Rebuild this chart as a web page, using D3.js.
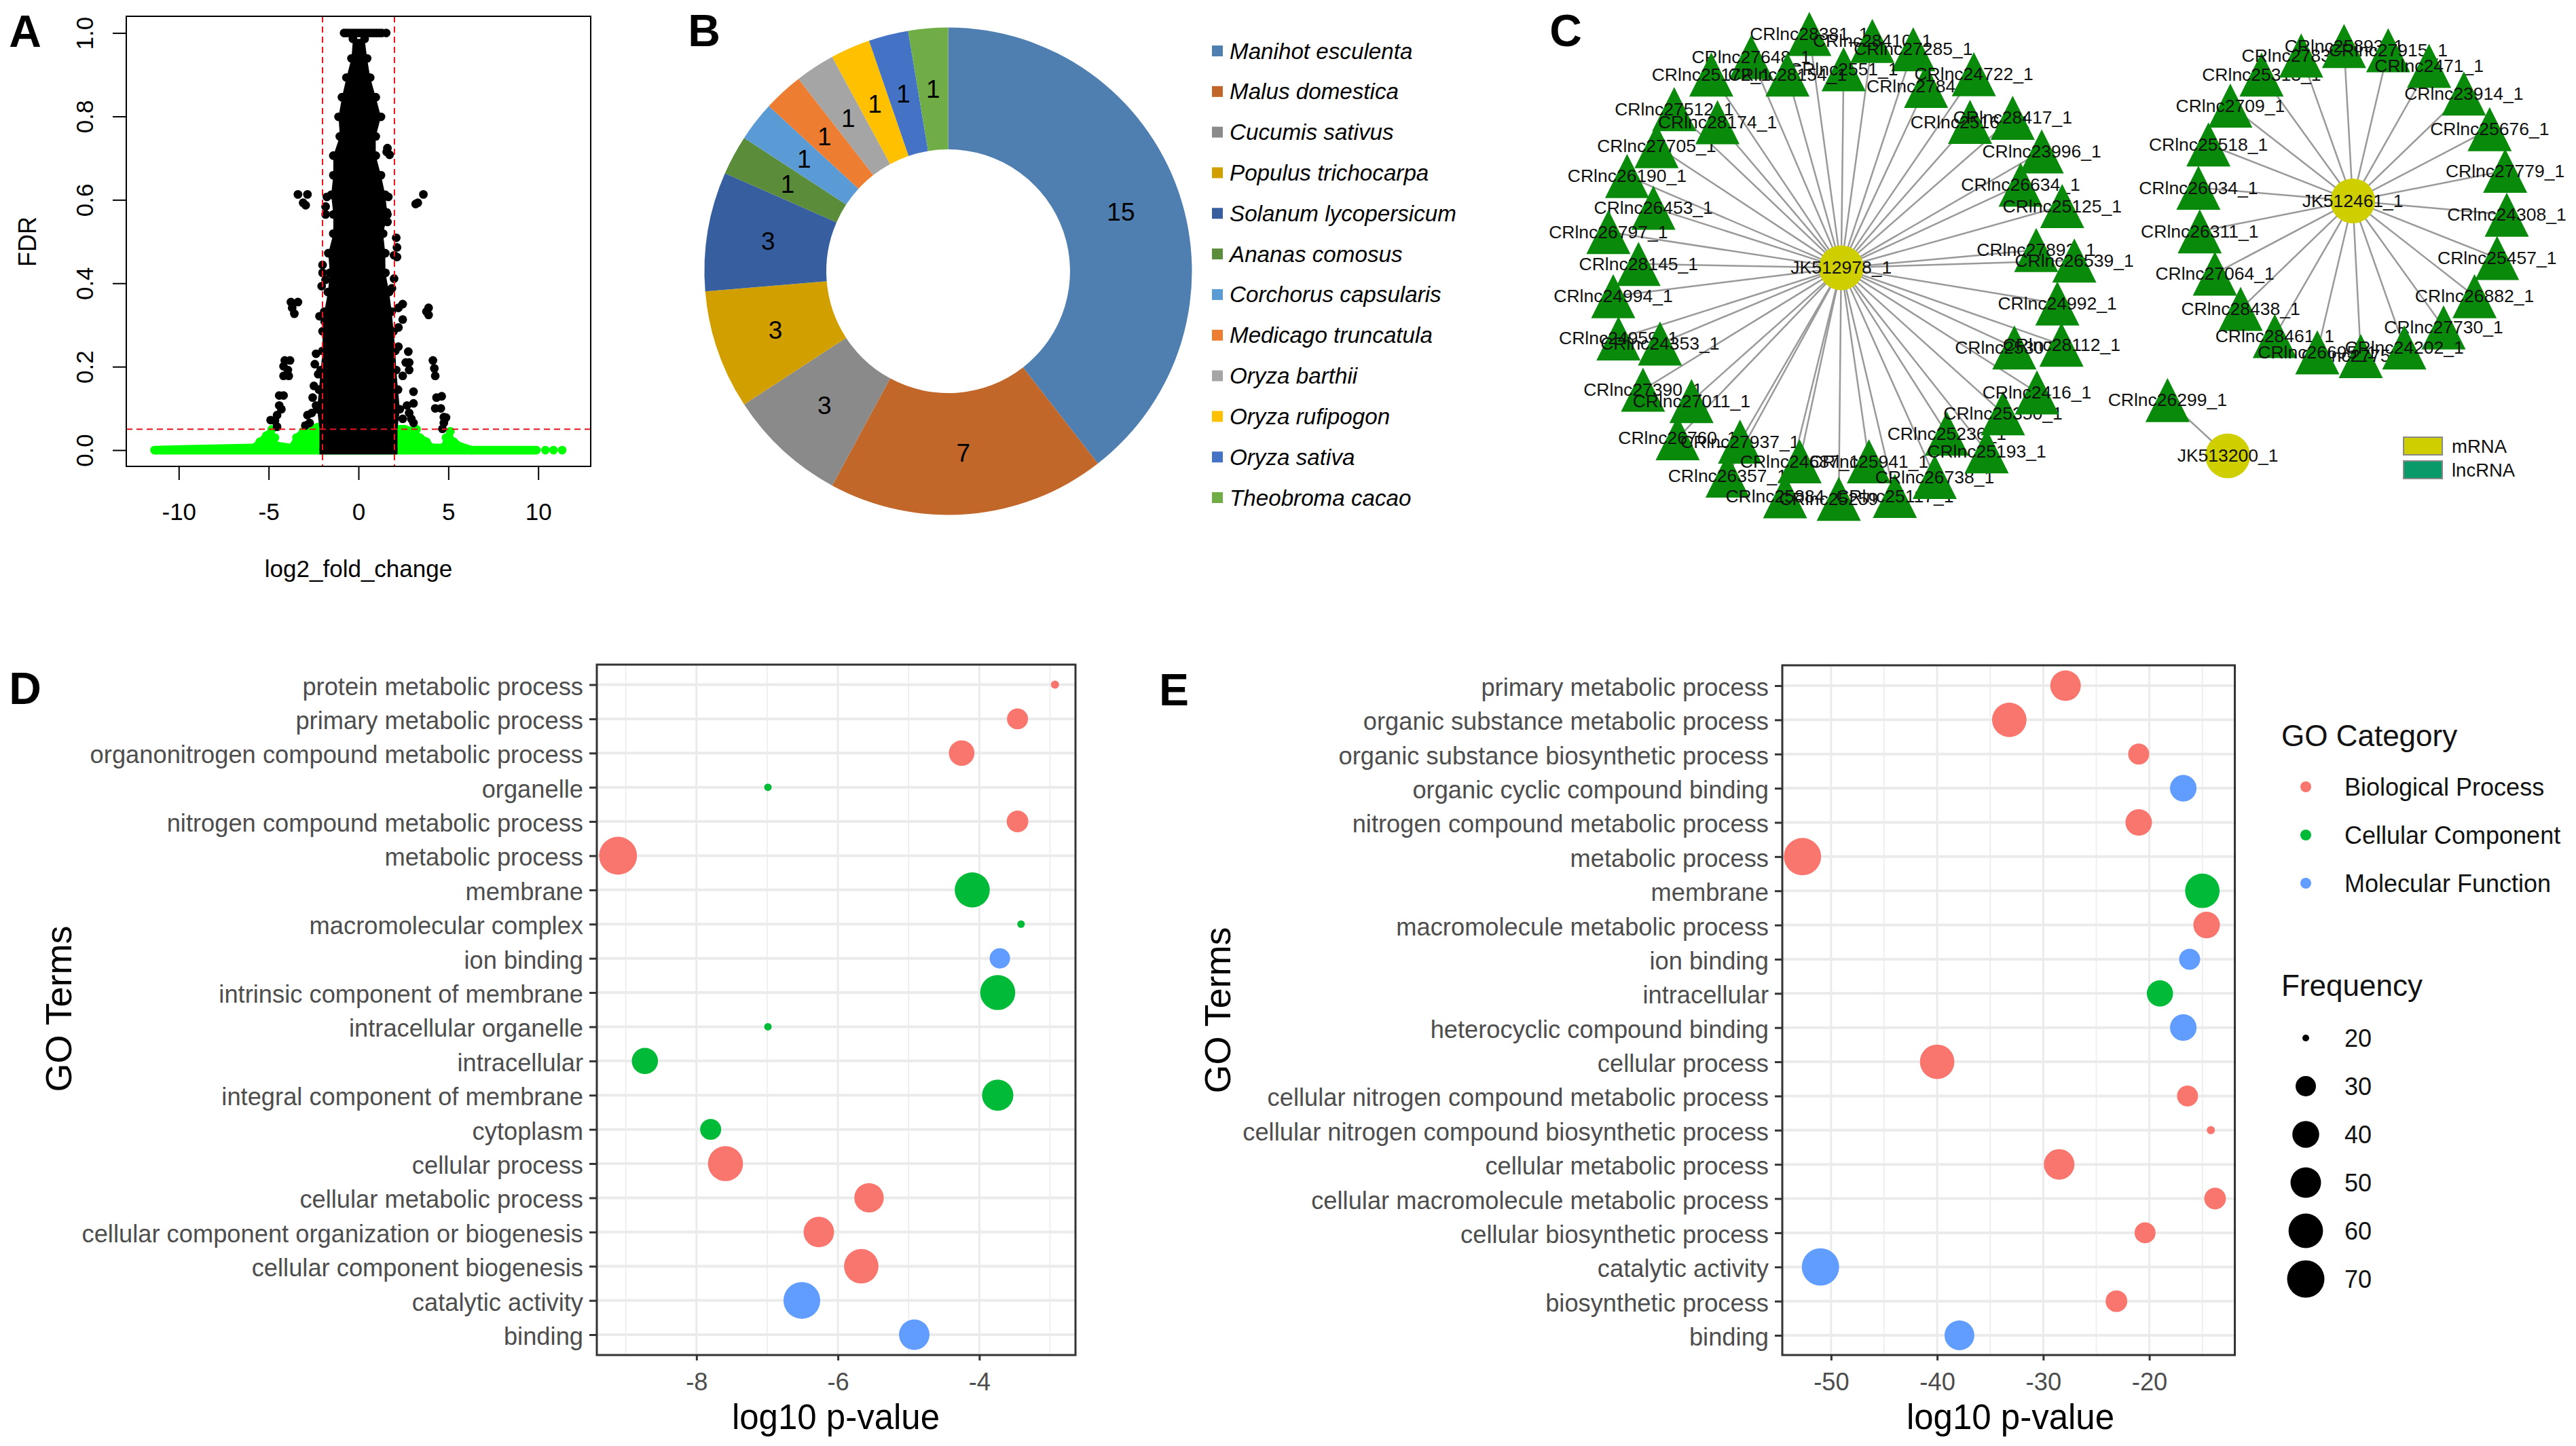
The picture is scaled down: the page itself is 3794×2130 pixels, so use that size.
<!DOCTYPE html>
<html><head><meta charset="utf-8">
<script src="https://cdnjs.cloudflare.com/ajax/libs/d3/7.8.5/d3.min.js"></script>
<style>html,body{margin:0;padding:0;background:#fff}svg{display:block}text{font-family:"Liberation Sans",Arial,sans-serif}</style>
</head><body><svg id="c" width="3794" height="2130"></svg>
<script>
// ---------- Panel A data
const aOutX=[-3.37,-2.84,-3.08,-2.94,1.61,1.57,1.73,3.30,3.61,3.18,-3.76,-3.37,-3.69,-3.57,3.90,3.78,3.90,2.10,2.14,1.98,2.14,-1.76,-1.83,-1.83,1.66,1.57,1.61,-2.0,-2.0,-1.83,-2.05,1.98,1.86,2.46,2.22,2.46,2.22,-2.17,-1.88,2.22,2.77,-4.10,-3.81,-4.17,-3.93,-4.17,-3.88,4.14,4.22,4.27,-2.36,-2.43,-2.24,2.63,2.82,2.46,2.82,-2.48,-2.55,-2.36,-2.60,3.06,3.06,2.70,2.82,-4.41,-4.17,-4.41,-4.29,-4.53,-4.65,-4.89,-4.53,4.34,4.63,4.27,4.58,4.75,4.87,4.75,4.67,-2.84,-2.72,-2.96,2.94,3.06,2.46];
const aOutY=[.613,.613,.593,.587,.724,.715,.708,.593,.613,.590,.355,.355,.341,.327,.341,.332,.324,.509,.486,.467,.463,.607,.584,.565,.607,.570,.547,.444,.425,.408,.393,.411,.388,.350,.341,.313,.294,.321,.308,.248,.236,.215,.215,.201,.192,.178,.178,.215,.196,.178,.231,.206,.182,.210,.210,.178,.192,.154,.126,.107,.089,.140,.112,.107,.089,.131,.131,.107,.098,.084,.070,.072,.056,.126,.129,.100,.100,.079,.078,.065,.051,.084,.065,.059,.075,.065,.075];
const aTopX=[-.8,-.65,-.5,-.35,-.2,-.05,.1,.25,.4,.55,.7,.85,1.0,1.15,1.3,1.54];
const aEnvY=[.986,.939,.893,.846,.799,.752,.706,.659,.612,.565,.519,.472,.425,.379,.332,.285,.238,.192,.145,.098,.051,0];
const aEnvL=[-.31,-.39,-.67,-.92,-1.11,-1.04,-1.40,-1.40,-1.52,-1.40,-1.40,-1.68,-1.6,-1.7,-1.9,-2.0,-2.0,-2.1,-2.2,-2.3,-2.17,-2.17];
const aEnvR=[.34,.48,.65,.96,1.25,.96,.96,1.25,1.49,1.61,1.37,1.49,1.5,1.7,1.85,1.95,2.05,2.1,2.2,2.3,2.17,2.17];
const aGreenX=[-11.35,-5.86,-5.49,-5.13,-4.82,-4.65,-4.53,-3.81,-3.45,-3.08,-2.72,-2.24,2.22,2.58,2.94,3.23,3.42,3.78,4.14,4.63,4.87,5.11,5.30,5.71,6.31,9.8];
const aGreenY=[0,.005,.02,.035,.05,.03,.01,.005,.03,.045,.05,.055,.05,.05,.045,.05,.03,.02,.005,.005,.03,.045,.02,.008,0,0];
const aGreenEnd=[9.9,10.4,10.85,11.33];
const aXTicks=[-10,-5,0,5,10];
const aYTicks=[0,.2,.4,.6,.8,1];
const aThreshX=[-2,2];
const aThreshY=.05;
// ---------- Panel B data
const species=["Manihot esculenta","Malus domestica","Cucumis sativus","Populus trichocarpa","Solanum lycopersicum","Ananas comosus","Corchorus capsularis","Medicago truncatula","Oryza barthii","Oryza rufipogon","Oryza sativa","Theobroma cacao"];
const speciesCounts=[15,7,3,3,3,1,1,1,1,1,1,1];
const speciesColors=["#4E7FB0","#C1672A","#8A8A8A","#D29F00","#375E9F","#5B8C3A","#5B9BD5","#ED7D31","#A5A5A5","#FFC000","#4472C4","#70AD47"];
// ---------- Panel C data (read in crop units)
const hub1={name:"JK512978_1",x:905,y:773};
const hub1Names=["CRlnc28381_1","CRlnc28410_1","CRlnc27285_1","CRlnc27844_1","CRlnc24722_1","CRlnc27648_1","CRlnc2551_1","CRlnc25172_1","CRlnc28154_1","CRlnc27512_1","CRlnc27705_1","CRlnc28174_1","CRlnc26190_1","CRlnc26453_1","CRlnc26797_1","CRlnc28145_1","CRlnc24994_1","CRlnc24959_1","CRlnc24353_1","CRlnc27390_1","CRlnc27011_1","CRlnc26760_1","CRlnc27937_1","CRlnc26357_1","CRlnc24687_1","CRlnc25941_1","CRlnc25884_1","CRlnc25259_1","CRlnc25117_1","CRlnc26738_1","CRlnc25236_1","CRlnc25193_1","CRlnc25350_1","CRlnc2416_1","CRlnc25307_1","CRlnc28112_1","CRlnc24992_1","CRlnc27892_1","CRlnc26539_1","CRlnc26634_1","CRlnc25125_1","CRlnc23996_1","CRlnc25164_1","CRlnc28417_1"];
const hub1X=[813,995,1113,1150,1288,645,912,530,750,423,372,548,287,363,233,320,247,262,382,333,473,433,613,577,785,985,743,898,1060,1175,1210,1325,1372,1470,1405,1541,1529,1468,1578,1423,1543,1484,1277,1400];
const hub1Y=[98,118,142,248,214,165,200,215,215,315,422,353,508,600,670,762,855,977,992,1125,1158,1265,1275,1373,1332,1332,1433,1440,1432,1377,1252,1303,1193,1133,1003,995,876,722,752,533,595,437,352,340];
const hub2={name:"JK512461_1",x:875,y:580};
const hub2Names=["CRlnc25313_1","CRlnc27832_1","CRlnc25893_1","CRlnc27915_1","CRlnc2471_1","CRlnc23914_1","CRlnc2709_1","CRlnc25676_1","CRlnc25518_1","CRlnc27779_1","CRlnc26034_1","CRlnc24308_1","CRlnc26311_1","CRlnc25457_1","CRlnc27064_1","CRlnc26882_1","CRlnc28438_1","CRlnc27730_1","CRlnc27751_1","CRlnc28461_1","CRlnc26695_1","CRlnc24202_1"];
const hub2X=[592,715,848,985,1112,1220,495,1300,427,1348,396,1353,400,1323,447,1253,527,1157,900,633,765,1035];
const hub2Y=[215,160,133,145,190,270,305,373,417,493,542,620,668,745,790,855,892,945,1028,970,1017,1003];
const hub3={name:"JK513200_1",x:487,y:1316};
const hub3Names=["CRlnc26299_1"];
const hub3X=[300];
const hub3Y=[1155];
const netLegend=["mRNA","lncRNA"];
// ---------- Panels D / E data
const dTerms=["protein metabolic process","primary metabolic process","organonitrogen compound metabolic process","organelle","nitrogen compound metabolic process","metabolic process","membrane","macromolecular complex","ion binding","intrinsic component of membrane","intracellular organelle","intracellular","integral component of membrane","cytoplasm","cellular process","cellular metabolic process","cellular component organization or biogenesis","cellular component biogenesis","catalytic activity","binding"];
const dP=[-2.93,-3.46,-4.25,-6.99,-3.46,-9.11,-4.10,-3.41,-3.71,-3.74,-6.99,-8.73,-3.74,-7.80,-7.59,-5.56,-6.27,-5.67,-6.51,-4.92];
const dFreq=[21,31,38,20.5,32,72,62,20.5,30,62,20.5,39,52,31,62,47,50,60,68,50];
const dCat=["BP","BP","BP","CC","BP","BP","CC","CC","MF","CC","CC","CC","CC","CC","BP","BP","BP","BP","MF","MF"];
const eTerms=["primary metabolic process","organic substance metabolic process","organic substance biosynthetic process","organic cyclic compound binding","nitrogen compound metabolic process","metabolic process","membrane","macromolecule metabolic process","ion binding","intracellular","heterocyclic compound binding","cellular process","cellular nitrogen compound metabolic process","cellular nitrogen compound biosynthetic process","cellular metabolic process","cellular macromolecule metabolic process","cellular biosynthetic process","catalytic activity","biosynthetic process","binding"];
const eP=[-27.9,-33.2,-21.0,-16.8,-21.0,-52.7,-15.0,-14.6,-16.2,-19.0,-16.8,-40.0,-16.4,-14.2,-28.5,-13.8,-20.4,-51.0,-23.1,-37.9];
const eFreq=[50,60,31,39.5,39.5,70,60,39.5,31,39,39.5,60,31,21,50,32,31,70,32,48];
const eCat=["BP","BP","BP","MF","BP","BP","CC","BP","MF","CC","MF","BP","BP","BP","BP","BP","BP","MF","BP","MF"];
const catNames=["Biological Process","Cellular Component","Molecular Function"];
const catKeys=["BP","CC","MF"];
const catColors=["#F8766D","#00BA38","#619CFF"];
const freqLegend=[20,30,40,50,60,70];

const svg=d3.select("#c");
svg.append("rect").attr("width",3794).attr("height",2130).attr("fill","#fff");
function txt(g,x,y,s,size,o={}){
  const t=g.append("text").attr("x",x).attr("y",y).attr("font-size",size)
    .attr("dominant-baseline","central").attr("text-anchor",o.anchor||"middle")
    .attr("fill",o.fill||"#000").text(s);
  if(o.weight)t.attr("font-weight",o.weight);
  if(o.style)t.attr("font-style",o.style);
  if(o.rot!==undefined)t.attr("transform",`rotate(${o.rot},${x},${y})`);
  return t;
}
// panel letters
[["A",37,46],["B",1037,45],["C",2306,45],["D",37,1014],["E",1729,1016]].forEach(d=>txt(svg,d[1],d[2],d[0],66,{weight:"bold"}));

// ---------- A
(function(){
  const g=svg.append("g");
  const x=d3.scaleLinear().domain([-12.92,12.92]).range([186,870]);
  const y=d3.scaleLinear().domain([-.039,1.04]).range([687,24]);
  const R=6.4;
  // green
  const area=d3.area().x((d,i)=>x(aGreenX[i])).y0(y(0)+R).y1((d,i)=>y(aGreenY[i])-R).curve(d3.curveLinear);
  g.append("path").datum(aGreenX).attr("d",area).attr("fill","#00FF00");
  g.selectAll(".gp").data(aGreenX).join("circle").attr("cx",d=>x(d)).attr("cy",(d,i)=>y(aGreenY[i])).attr("r",R).attr("fill","#00FF00");
  g.selectAll(".ge").data(aGreenEnd).join("circle").attr("cx",d=>x(d)).attr("cy",y(0)).attr("r",R).attr("fill","#00FF00");
  // black mass
  const mass=d3.area().y((d,i)=>y(aEnvY[i])).x0((d,i)=>x(aEnvL[i])).x1((d,i)=>x(aEnvR[i]));
  g.append("path").datum(aEnvY).attr("d",mass).attr("fill","#000");
  g.append("rect").attr("x",x(-2.17)).attr("width",x(2.17)-x(-2.17)).attr("y",y(0)-2).attr("height",R+2).attr("fill","#000");
  const env=g.append("g");
  aEnvY.forEach((v,i)=>{ if(v<.06) return;
    env.append("circle").attr("cx",x(aEnvL[i])).attr("cy",y(v)).attr("r",R);
    env.append("circle").attr("cx",x(aEnvR[i])).attr("cy",y(v)).attr("r",R);
  });
  g.selectAll(".op").data(aOutX).join("circle").attr("cx",d=>x(d)).attr("cy",(d,i)=>y(aOutY[i])).attr("r",R).attr("fill","#000");
  g.selectAll(".tp").data(aTopX).join("circle").attr("cx",d=>x(d)).attr("cy",y(1)).attr("r",R).attr("fill","#000");
  // thresholds
  aThreshX.forEach(v=>g.append("line").attr("x1",x(v)).attr("x2",x(v)).attr("y1",24).attr("y2",687).attr("stroke","#E8141C").attr("stroke-width",2).attr("stroke-dasharray","9,6"));
  g.append("line").attr("x1",186).attr("x2",870).attr("y1",y(aThreshY)).attr("y2",y(aThreshY)).attr("stroke","#E8141C").attr("stroke-width",2).attr("stroke-dasharray","9,6");
  g.append("rect").attr("x",186).attr("y",24).attr("width",684).attr("height",663).attr("fill","none").attr("stroke","#000").attr("stroke-width",2);
  const ax=g.append("g").attr("transform","translate(0,687)").call(d3.axisBottom(x).tickValues(aXTicks).tickSize(20).tickPadding(14).tickFormat(d=>String(d)));
  ax.select(".domain").remove();
  ax.selectAll("line").attr("stroke","#000").attr("stroke-width",2);
  ax.selectAll("text").attr("font-size",35).attr("fill","#000").attr("font-family","Liberation Sans").attr("dy",null).attr("y",null).attr("dominant-baseline","central").attr("transform","translate(0,66)");
  const ay=g.append("g").attr("transform","translate(186,0)").call(d3.axisLeft(y).tickValues(aYTicks).tickSize(20).tickFormat(d3.format(".1f")));
  ay.select(".domain").remove();
  ay.selectAll("line").attr("stroke","#000").attr("stroke-width",2);
  ay.selectAll("text").attr("font-size",35).attr("fill","#000").attr("font-family","Liberation Sans").attr("x",null).attr("dy",null).attr("text-anchor","middle").attr("dominant-baseline","central").attr("transform","translate(-62,0) rotate(-90)");
  txt(g,528,837,"log2_fold_change",35);
  txt(g,40,356,"FDR",36,{rot:-90});
})();

// ---------- B
(function(){
  const g=svg.append("g").attr("transform","translate(1396.5,399.5)");
  const pie=d3.pie().sort(null)(speciesCounts);
  const arc=d3.arc().innerRadius(179.5).outerRadius(359);
  const mid=d3.arc().innerRadius(269).outerRadius(269);
  g.selectAll("path").data(pie).join("path").attr("d",arc).attr("fill",(d,i)=>speciesColors[i]);
  pie.forEach(d=>{const c=mid.centroid(d);txt(g,c[0],c[1],d.data,37,{});});
  const lg=svg.append("g");
  const ly=d3.scalePoint().domain(species).range([75,733]);
  species.forEach((s,i)=>{
    lg.append("rect").attr("x",1785).attr("y",ly(s)-8).attr("width",16).attr("height",16).attr("fill",speciesColors[i]);
    txt(lg,1811,ly(s),s,33.2,{anchor:"start",style:"italic"});
  });
})();

// ---------- C
(function(){
  const g=svg.append("g");
  const x1=d3.scaleLinear().domain([0,1568]).range([2250,3050]);
  const y1=d3.scaleLinear().domain([0,1568]).range([0,800]);
  const x2=d3.scaleLinear().domain([0,1568]).range([3050,3794]);
  const tri=d3.symbol().type({draw(ctx){ctx.moveTo(0,-32.5);ctx.lineTo(32.5,32.5);ctx.lineTo(-32.5,32.5);ctx.closePath();}});
  const G="#0A8A0A",Y="#CFCF00";
  function net(hub,names,xs,ys,sx,r){
    const hx=sx(hub.x),hy=y1(hub.y);
    names.forEach((n,i)=>g.append("line").attr("x1",hx).attr("y1",hy).attr("x2",sx(xs[i])).attr("y2",y1(ys[i])).attr("stroke","#999").attr("stroke-width",2.5));
    g.append("circle").attr("cx",hx).attr("cy",hy).attr("r",r).attr("fill",Y);
    names.forEach((n,i)=>{
      g.append("path").attr("d",tri()).attr("transform",`translate(${sx(xs[i])},${y1(ys[i])})`).attr("fill",G);
      txt(g,sx(xs[i]),y1(ys[i]),n,26.5,{fill:"#111"});
    });
    txt(g,hx,hy,hub.name,26.5,{fill:"#111"});
  }
  net(hub1,hub1Names,hub1X,hub1Y,x1,33);
  net(hub2,hub2Names,hub2X,hub2Y,x2,33);
  net(hub3,hub3Names,hub3X,hub3Y,x2,33);
  const cols=[Y,"#0A9A6A"];
  const ly=d3.scalePoint().domain(netLegend).range([657,692]);
  netLegend.forEach((s,i)=>{
    g.append("rect").attr("x",3540).attr("y",ly(s)-13).attr("width",57).attr("height",26).attr("fill",cols[i]).attr("stroke","#888").attr("stroke-width",2);
    txt(g,3611,ly(s),s,27.5,{anchor:"start",fill:"#111"});
  });
})();

// ---------- D / E
const rScale=d3.scaleLinear().domain([20,30,40,50,60,70]).range([5,15,19.8,22.5,25.4,27.5]).clamp(false);
const catColor=d3.scaleOrdinal().domain(catKeys).range(catColors);
function dot(o){
  const g=svg.append("g");
  const x=d3.scaleLinear().domain(o.dom).range([o.x0,o.x1]);
  const y=d3.scalePoint().domain(o.terms).range([o.ry0,o.ry1]);
  o.minor.forEach(v=>g.append("line").attr("x1",x(v)).attr("x2",x(v)).attr("y1",o.y0).attr("y2",o.y1).attr("stroke","#EBEBEB").attr("stroke-width",1.5));
  o.major.forEach(v=>g.append("line").attr("x1",x(v)).attr("x2",x(v)).attr("y1",o.y0).attr("y2",o.y1).attr("stroke","#EBEBEB").attr("stroke-width",3));
  o.terms.forEach(t=>g.append("line").attr("x1",o.x0).attr("x2",o.x1).attr("y1",y(t)).attr("y2",y(t)).attr("stroke","#EBEBEB").attr("stroke-width",4));
  g.selectAll(".d").data(o.terms).join("circle").attr("cx",(d,i)=>x(o.p[i])).attr("cy",d=>y(d)).attr("r",(d,i)=>rScale(o.freq[i])).attr("fill",(d,i)=>catColor(o.cat[i]));
  g.append("rect").attr("x",o.x0).attr("y",o.y0).attr("width",o.x1-o.x0).attr("height",o.y1-o.y0).attr("fill","none").attr("stroke","#333").attr("stroke-width",3);
  const ax=g.append("g").attr("transform",`translate(0,${o.y1})`).call(d3.axisBottom(x).tickValues(o.major).tickSize(8).tickFormat(d=>String(d)));
  ax.select(".domain").remove();
  ax.selectAll("line").attr("stroke","#333").attr("stroke-width",3);
  ax.selectAll("text").attr("font-size",o.fs).attr("fill","#4D4D4D").attr("font-family","Liberation Sans").attr("dy",null).attr("y",null).attr("dominant-baseline","central").attr("transform","translate(0,39)");
  const ay=g.append("g").attr("transform",`translate(${o.x0},0)`).call(d3.axisLeft(y).tickSize(11).tickPadding(9));
  ay.select(".domain").remove();
  ay.selectAll("line").attr("stroke","#333").attr("stroke-width",3);
  ay.selectAll("text").attr("font-size",o.fs).attr("fill","#4D4D4D").attr("font-family","Liberation Sans").attr("dy",null).attr("dominant-baseline","central").attr("transform","translate(0,2)");
  txt(g,(o.titleX),2087,"log10 p-value",51,{});
  txt(g,o.gtX,o.gtY,"GO Terms",54,{rot:-90});
}
dot({terms:dTerms,p:dP,freq:dFreq,cat:dCat,dom:[-9.41,-2.64],x0:879,x1:1584,y0:979,y1:1996,ry0:1008.5,ry1:1966,minor:[-9,-7,-5,-3],major:[-8,-6,-4],fs:36.3,titleX:1231,gtX:86,gtY:1486});
dot({terms:eTerms,p:eP,freq:eFreq,cat:eCat,dom:[-54.6,-11.94],x0:2625,x1:3291.5,y0:980,y1:1996,ry0:1010,ry1:1967,minor:[-45,-35,-25,-15],major:[-50,-40,-30,-20],fs:36.3,titleX:2961,gtX:1793,gtY:1488});
(function(){
  const g=svg.append("g");
  txt(g,3360,1083,"GO Category",44,{anchor:"start",fill:"#111"});
  const cy=d3.scalePoint().domain(catNames).range([1159,1301]);
  catNames.forEach((c,i)=>{
    g.append("circle").attr("cx",3396).attr("cy",cy(c)).attr("r",8).attr("fill",catColors[i]);
    txt(g,3453,cy(c),c,36,{anchor:"start",fill:"#111"});
  });
  txt(g,3360,1451,"Frequency",44,{anchor:"start",fill:"#111"});
  const fy=d3.scalePoint().domain(freqLegend).range([1529,1884]);
  freqLegend.forEach(f=>{
    g.append("circle").attr("cx",3396).attr("cy",fy(f)).attr("r",rScale(f)).attr("fill","#000");
    txt(g,3453,fy(f),f,36,{anchor:"start",fill:"#111"});
  });
})();
</script></body></html>
